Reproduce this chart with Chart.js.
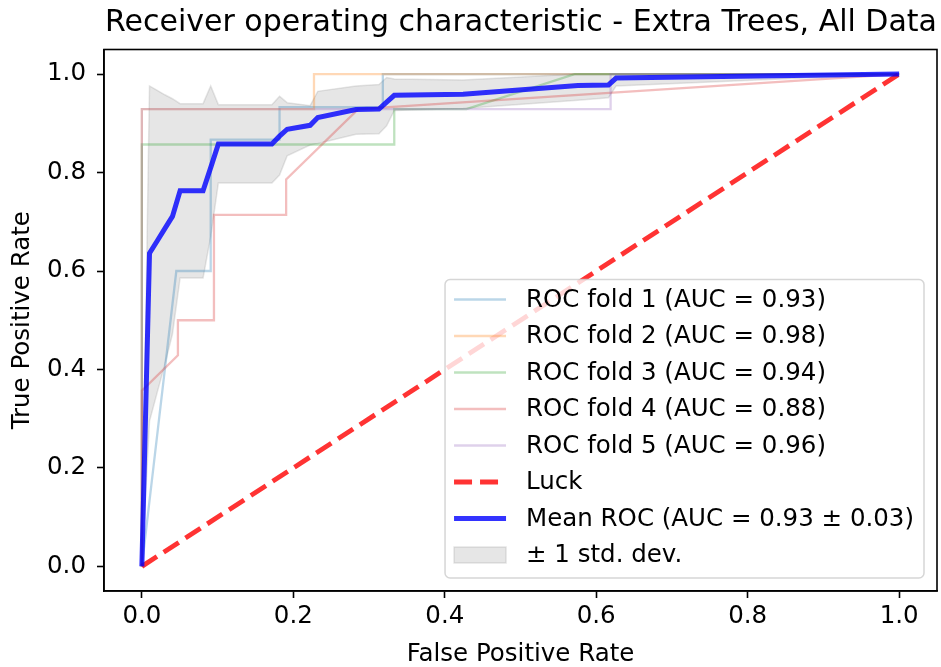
<!DOCTYPE html>
<html>
<head>
<meta charset="utf-8">
<title>ROC - Extra Trees, All Data</title>
<script src="https://cdn.jsdelivr.net/npm/chart.js@4.4.1/dist/chart.umd.min.js"></script>
<style>
  html, body { margin: 0; padding: 0; background: #fff; }
  #roc-chart { display: block; }
</style>
</head>
<body>
<canvas id="roc-chart" width="941" height="667"></canvas>
<script>
// ---- data ----
const xTickValues = [0, 0.2, 0.4, 0.6, 0.8, 1.0];
const yTickValues = [0, 0.2, 0.4, 0.6, 0.8, 1.0];

const fold1Fpr = [0, 0.0455, 0.0909, 0.0909, 0.1818, 0.1818, 0.3182, 0.3182, 1];
const fold1Tpr = [0, 0.6, 0.6, 0.867, 0.867, 0.933, 0.933, 1, 1];

const fold2Fpr = [0, 0, 0.2273, 0.2273, 1];
const fold2Tpr = [0, 0.929, 0.929, 1, 1];

const fold3Fpr = [0, 0, 0.3333, 0.3333, 0.4286, 0.5714, 1];
const fold3Tpr = [0, 0.857, 0.857, 0.929, 0.929, 1, 1];

const fold4Fpr = [0, 0, 0.0476, 0.0476, 0.0952, 0.0952, 0.1905, 0.1905, 0.2857, 1];
const fold4Tpr = [0, 0.357, 0.429, 0.5, 0.5, 0.714, 0.714, 0.786, 0.929, 1];

const fold5Fpr = [0, 0, 0.619, 0.619, 1];
const fold5Tpr = [0, 0.929, 0.929, 1, 1];

const luckFpr = [0, 1];
const luckTpr = [0, 1];

const meanFpr = [0, 0.0101, 0.0202, 0.0303, 0.0404, 0.0505, 0.0808, 0.0909, 0.1010, 0.1717, 0.1818,
  0.1919, 0.2222, 0.2323, 0.2828, 0.3131, 0.3232, 0.3333, 0.4242, 0.5758, 0.6162, 0.6263, 1.0];
const meanTpr = [0, 0.636, 0.661, 0.686, 0.711, 0.763, 0.763, 0.81, 0.858, 0.858, 0.874,
  0.888, 0.896, 0.912, 0.928, 0.929, 0.943, 0.957, 0.959, 0.977, 0.978, 0.992, 1.0];
const upperTpr = [0, 0.976, 0.967, 0.958, 0.95, 0.94, 0.94, 0.976, 0.938, 0.938, 0.955,
  0.942, 0.936, 0.965, 0.976, 0.979, 0.993, 0.99, 0.988, 1.0, 1.0, 1.0, 1.0];
const lowerTpr = [0, 0.295, 0.353, 0.41, 0.472, 0.586, 0.586, 0.67, 0.779, 0.779, 0.795,
  0.834, 0.856, 0.859, 0.878, 0.879, 0.895, 0.926, 0.93, 0.947, 0.952, 0.976, 1.0];

const foldLabels = [
  "ROC fold 1 (AUC = 0.93)",
  "ROC fold 2 (AUC = 0.98)",
  "ROC fold 3 (AUC = 0.94)",
  "ROC fold 4 (AUC = 0.88)",
  "ROC fold 5 (AUC = 0.96)",
];
const luckLabel = "Luck";
const meanLabel = "Mean ROC (AUC = 0.93 \u00b1 0.03)";
const bandLabel = "\u00b1 1 std. dev.";

// ---- styling ----
const FONT = "'DejaVu Sans', sans-serif";
const FONT_SIZE = 24.5;
const foldColors = [
  "rgba(31,119,180,0.3)",
  "rgba(255,127,14,0.3)",
  "rgba(44,160,44,0.3)",
  "rgba(214,39,40,0.3)",
  "rgba(148,103,189,0.3)",
];
const bandColor = "rgba(128,128,128,0.2)";

function toPoints(xs, ys) {
  return xs.map((x, i) => ({ x: x, y: ys[i] }));
}

function foldDataset(i, fpr, tpr) {
  return {
    label: foldLabels[i],
    legendOrder: i,
    legendKind: "line",
    data: toPoints(fpr, tpr),
    borderColor: foldColors[i],
    borderWidth: 2.3,
  };
}

// index 0 is drawn last (on top)
const datasets = [
  {
    label: meanLabel,
    legendOrder: 6,
    legendKind: "line",
    data: toPoints(meanFpr, meanTpr),
    borderColor: "rgba(0,0,255,0.8)",
    borderWidth: 5,
  },
  {
    label: luckLabel,
    legendOrder: 5,
    legendKind: "line",
    data: toPoints(luckFpr, luckTpr),
    borderColor: "rgba(255,0,0,0.8)",
    borderWidth: 4.8,
    borderDash: [18, 8],
  },
  foldDataset(4, fold5Fpr, fold5Tpr),
  foldDataset(3, fold4Fpr, fold4Tpr),
  foldDataset(2, fold3Fpr, fold3Tpr),
  foldDataset(1, fold2Fpr, fold2Tpr),
  foldDataset(0, fold1Fpr, fold1Tpr),
  {
    label: bandLabel,
    legendOrder: 7,
    legendKind: "patch",
    data: toPoints(meanFpr, upperTpr),
    borderColor: bandColor,
    borderWidth: 1.5,
    backgroundColor: bandColor,
    fill: "+1",
  },
  {
    label: "",
    data: toPoints(meanFpr, lowerTpr),
    borderColor: bandColor,
    borderWidth: 1.5,
    fill: false,
  },
];

// legend drawn inside the plot, lower right, like matplotlib's loc="lower right"
const insideLegend = {
  id: "insideLegend",
  afterDatasetsDraw(chart) {
    const ctx = chart.ctx;
    const area = chart.chartArea;
    const items = chart.data.datasets
      .filter((d) => d.legendOrder !== undefined)
      .sort((a, b) => a.legendOrder - b.legendOrder);

    ctx.save();
    ctx.font = FONT_SIZE + "px " + FONT;
    const maxText = Math.max(...items.map((d) => ctx.measureText(d.label).width));
    const rowH = 36.5;
    const boxW = 81 + maxText + 10;
    const boxH = 20 + rowH * (items.length - 1) + 23;
    const boxR = area.right - 13;
    const boxB = area.bottom - 13;
    const boxL = boxR - boxW;
    const boxT = boxB - boxH;

    ctx.beginPath();
    ctx.roundRect(boxL, boxT, boxW, boxH, 5);
    ctx.fillStyle = "rgba(255,255,255,0.8)";
    ctx.fill();
    ctx.lineWidth = 1.5;
    ctx.strokeStyle = "rgba(204,204,204,0.8)";
    ctx.stroke();

    items.forEach((d, i) => {
      const cy = boxT + 20 + i * rowH;
      const sx = boxL + 9;
      const ex = boxL + 61;
      if (d.legendKind === "patch") {
        ctx.fillStyle = d.backgroundColor;
        ctx.fillRect(sx, cy - 8, ex - sx, 16);
        ctx.strokeStyle = d.borderColor;
        ctx.lineWidth = 1.5;
        ctx.strokeRect(sx, cy - 8, ex - sx, 16);
      } else {
        ctx.beginPath();
        ctx.setLineDash(d.borderDash || []);
        ctx.moveTo(sx, cy);
        ctx.lineTo(ex, cy);
        ctx.strokeStyle = d.borderColor;
        ctx.lineWidth = d.borderWidth;
        ctx.stroke();
        ctx.setLineDash([]);
      }
      ctx.fillStyle = "#000";
      ctx.textBaseline = "middle";
      ctx.textAlign = "left";
      ctx.fillText(d.label, boxL + 81, cy + 1);
    });
    ctx.restore();
  },
};

// full box round the axes
const axesFrame = {
  id: "axesFrame",
  afterDatasetsDraw(chart) {
    const a = chart.chartArea;
    const ctx = chart.ctx;
    ctx.save();
    ctx.strokeStyle = "#000";
    ctx.lineWidth = 1.6;
    ctx.strokeRect(a.left, a.top, a.right - a.left, a.bottom - a.top);
    ctx.restore();
  },
};

const tickFont = { family: FONT, size: FONT_SIZE };

new Chart(document.getElementById("roc-chart"), {
  type: "scatter",
  data: { datasets: datasets },
  options: {
    responsive: false,
    devicePixelRatio: 1,
    animation: false,
    showLine: true,
    elements: {
      point: { radius: 0, hoverRadius: 0 },
      line: { tension: 0, fill: false },
    },
    layout: { padding: { left: 0, right: 4, top: 0, bottom: 0 } },
    scales: {
      x: {
        type: "linear",
        min: -0.05,
        max: 1.05,
        afterBuildTicks: (scale) => {
          scale.ticks = xTickValues.map((v) => ({ value: v }));
        },
        afterFit: (scale) => {
          scale.height = 76;
        },
        ticks: {
          callback: (v) => v.toFixed(1),
          font: tickFont,
          color: "#000",
          padding: 4,
          maxRotation: 0,
          autoSkip: false,
        },
        grid: { drawOnChartArea: false, tickLength: 7, tickColor: "#000", tickWidth: 1.6 },
        border: { color: "#000", width: 1.6 },
        title: {
          display: true,
          text: "False Positive Rate",
          font: tickFont,
          color: "#000",
          padding: { top: 4, bottom: -2 },
        },
      },
      y: {
        type: "linear",
        min: -0.05,
        max: 1.05,
        afterBuildTicks: (scale) => {
          scale.ticks = yTickValues.map((v) => ({ value: v }));
        },
        afterFit: (scale) => {
          scale.width = 104;
        },
        ticks: {
          callback: (v) => v.toFixed(1),
          font: tickFont,
          color: "#000",
          padding: 11,
          autoSkip: false,
        },
        grid: { drawOnChartArea: false, tickLength: 7, tickColor: "#000", tickWidth: 1.6 },
        border: { color: "#000", width: 1.6 },
        title: {
          display: true,
          text: "True Positive Rate",
          font: tickFont,
          color: "#000",
          padding: { top: 8, bottom: 8 },
        },
      },
    },
    plugins: {
      legend: { display: false },
      tooltip: { enabled: false },
      title: {
        display: true,
        text: "Receiver operating characteristic - Extra Trees, All Data",
        align: "end",
        font: { family: FONT, size: 30, weight: "normal" },
        color: "#000",
        padding: { top: 5, bottom: 8.5 },
      },
    },
  },
  plugins: [insideLegend, axesFrame],
});
</script>
</body>
</html>
